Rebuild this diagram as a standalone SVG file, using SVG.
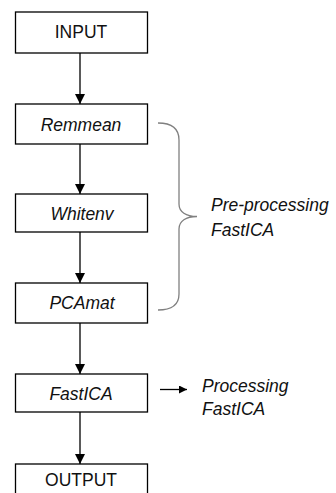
<svg xmlns="http://www.w3.org/2000/svg" width="336" height="493" viewBox="0 0 336 493">
<defs>
<style>
.box{fill:#fff;stroke:#000;stroke-width:1.3}
.t{font-family:"Liberation Sans",Arial,sans-serif;font-size:17.5px;fill:#111;text-anchor:middle}
.i{font-style:italic}
.lbl{font-family:"Liberation Sans",Arial,sans-serif;font-size:17.5px;fill:#111;font-style:italic}
.c{stroke:#000;stroke-width:1.3;fill:none}
</style>
<marker id="ah" viewBox="0 0 10 10" refX="10" refY="5" markerWidth="10" markerHeight="10" markerUnits="userSpaceOnUse" orient="auto">
<path d="M0,0 L10,5 L0,10 Z" fill="#000"/>
</marker>
<marker id="ahs" viewBox="0 0 10 10" refX="10" refY="5" markerWidth="9" markerHeight="8" markerUnits="userSpaceOnUse" orient="auto">
<path d="M0,0 L10,5 L0,10 Z" fill="#000"/>
</marker>
</defs>
<g id="connectors">
<line class="c" x1="80" y1="53" x2="80" y2="104" marker-end="url(#ah)"/>
<line class="c" x1="80" y1="144" x2="80" y2="194" marker-end="url(#ah)"/>
<line class="c" x1="80" y1="232" x2="80" y2="283" marker-end="url(#ah)"/>
<line class="c" x1="80" y1="323" x2="80" y2="374" marker-end="url(#ah)"/>
<line class="c" x1="80" y1="412" x2="80" y2="464" marker-end="url(#ah)"/>
<line class="c" x1="160" y1="389.5" x2="187" y2="389.5" marker-end="url(#ahs)"/>
</g>
<g id="input"><rect class="box" x="15.5" y="12" width="132" height="41"/><text class="t" x="81" y="37.5">INPUT</text></g>
<g id="remmean"><rect class="box" x="15.5" y="104" width="132" height="40"/><text class="t i" x="81" y="130.5">Remmean</text></g>
<g id="whitenv"><rect class="box" x="15.5" y="194" width="132" height="38"/><text class="t i" x="82" y="220">Whitenv</text></g>
<g id="pcamat"><rect class="box" x="15.5" y="283" width="132" height="40"/><text class="t i" x="82" y="308.5">PCAmat</text></g>
<g id="fastica"><rect class="box" x="15.5" y="374" width="132" height="38"/><text class="t i" x="81" y="399.5">FastICA</text></g>
<g id="output"><rect class="box" x="15.5" y="464" width="132" height="40"/><text class="t" x="81" y="486">OUTPUT</text></g>
<g id="preprocessing">
<path d="M158,123 C172,123 179,128 179,140 L179,204 C179,212 186,216.5 197,216.5 C186,216.5 179,221 179,229 L179,294 C179,305 172,310 158,310" fill="none" stroke="#808080" stroke-width="1.3"/>
<text class="lbl" x="211" y="210.5">Pre-processing</text>
<text class="lbl" x="211" y="235.5">FastICA</text>
</g>
<g id="processing">
<text class="lbl" x="202" y="391.5">Processing</text>
<text class="lbl" x="202" y="414.5">FastICA</text>
</g>
</svg>
